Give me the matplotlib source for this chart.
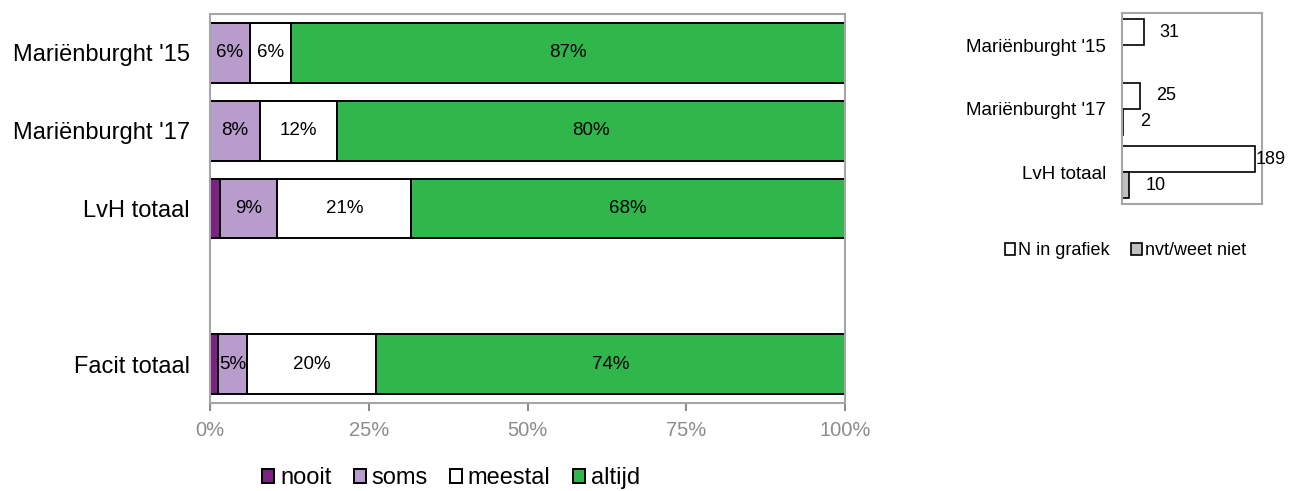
import matplotlib.pyplot as plt
import numpy as np

plt.rcParams['font.family'] = ['Liberation Sans', 'DejaVu Sans']

# main chart: share of answers per group (percent)
groups = ["Mariënburght '15", "Mariënburght '17", "LvH totaal", "Facit totaal"]
group_pos = [0, 1, 2, 4]
nooit = [0.0, 0.0, 1.6, 1.3]
soms = [6.3, 7.9, 9.0, 4.6]
meestal = [6.4, 12.1, 21.1, 20.3]
altijd = [87.3, 80.0, 68.3, 73.8]

series_names = ["nooit", "soms", "meestal", "altijd"]
series_colors = ["#7b2382", "#b89ccb", "#ffffff", "#30b64a"]
series_vals = [nooit, soms, meestal, altijd]
show_label = [False, True, True, True]

# side chart: number of respondents
n_groups = ["Mariënburght '15", "Mariënburght '17", "LvH totaal"]
n_grafiek = [31, 25, 189]
nvt = [0, 2, 10]
n_offsets = [11.5, 12, 0.7]
nvt_offsets = [12, 12, 12]

fig = plt.figure(figsize=(12.98, 4.91), dpi=100)
ax = fig.add_axes([0.1618, 0.1792, 0.4892, 0.7923])

left = np.zeros(len(groups))
for name, color, vals, lab in zip(series_names, series_colors, series_vals, show_label):
    vals = np.array(vals)
    ax.barh(group_pos, vals, left=left, height=0.77, color=color,
            edgecolor="black", linewidth=1.4, label=name)
    if lab:
        for y, l, v in zip(group_pos, left, vals):
            if v > 0:
                ax.text(l + v / 2, y, f"{v:.0f}%", ha="center", va="center",
                        fontsize=13.5, color="black")
    left = left + vals

ax.set_xlim(0, 100)
ax.set_ylim(4.5, -0.5)
ax.set_yticks(group_pos)
ax.set_yticklabels(groups, fontsize=17)
ax.tick_params(axis="y", length=0, pad=14.5)
ax.set_xticks([0, 25, 50, 75, 100])
ax.set_xticklabels(["0%", "25%", "50%", "75%", "100%"], fontsize=14.5, color="#8c8c8c")
ax.tick_params(axis="x", length=6, width=1.5, color="#8c8c8c", pad=7)
for s in ax.spines.values():
    s.set_color("#a6a6a6")
    s.set_linewidth(1.5)

ax.legend(loc="center", bbox_to_anchor=(0.3475, 0.026), bbox_transform=fig.transFigure,
          ncol=4, frameon=False, fontsize=17, handlelength=0.5, handleheight=0.5,
          handletextpad=0.25, columnspacing=0.95, borderpad=0.1)

# side chart
ax2 = fig.add_axes([0.8644, 0.5846, 0.1079, 0.388])
pos = np.arange(len(n_groups))
h = 0.41
ax2.barh(pos - h / 2, n_grafiek, height=h, color="white", edgecolor="black",
         linewidth=1.2, label="N in grafiek")
ax2.barh(pos + h / 2, nvt, height=h, color="#c0c0c0", edgecolor="black",
         linewidth=1.2, label="nvt/weet niet")
for y, v, o in zip(pos, n_grafiek, n_offsets):
    ax2.annotate(str(v), (v, y - h / 2), xytext=(o, 0), textcoords="offset points",
                 ha="left", va="center", fontsize=13)
for y, v, o in zip(pos, nvt, nvt_offsets):
    if v > 0:
        ax2.annotate(str(v), (v, y + h / 2), xytext=(o, 0), textcoords="offset points",
                     ha="left", va="center", fontsize=13)
ax2.set_xlim(0, 199)
ax2.set_ylim(2.5, -0.5)
ax2.set_xticks([])
ax2.set_yticks(pos)
ax2.set_yticklabels(n_groups, fontsize=13.5)
ax2.tick_params(axis="y", length=0, pad=11.5)
for s in ax2.spines.values():
    s.set_color("#a6a6a6")
    s.set_linewidth(1.5)

ax2.legend(loc="center", bbox_to_anchor=(0.867, 0.489), bbox_transform=fig.transFigure,
           ncol=2, frameon=False, fontsize=13, handlelength=0.6, handleheight=0.6,
           handletextpad=0.15, columnspacing=1.2)

fig.savefig("out.png", dpi=100)
